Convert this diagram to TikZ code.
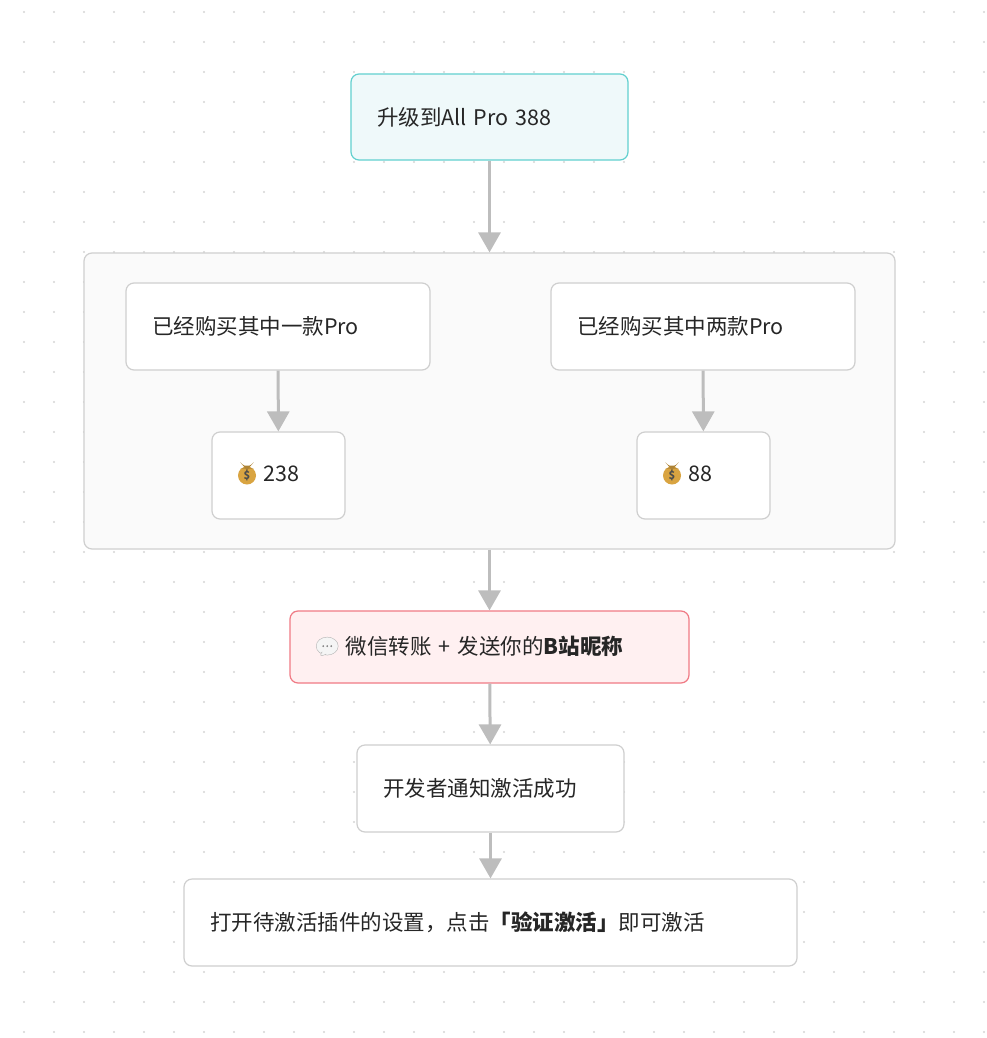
\documentclass[tikz,border=0pt]{standalone}
\usepackage{fontspec}
\setmainfont{Noto Sans CJK SC}
\usetikzlibrary{arrows.meta}
\definecolor{gridgray}{HTML}{D6D6D6}
\definecolor{linegray}{HTML}{BDBDBD}
\definecolor{boxline}{HTML}{CFCFCF}
\definecolor{cyanfill}{HTML}{EFF9FA}
\definecolor{cyanline}{HTML}{62D0CF}
\definecolor{redfill}{HTML}{FFF0F1}
\definecolor{redline}{HTML}{F07A85}
\definecolor{textgray}{HTML}{262626}
\definecolor{bagcol}{HTML}{D9A441}
\newcommand{\bagicon}{\tikz[baseline=-1pt,x=1pt,y=1pt]{
  \fill[bagcol] (0,5) circle (9);
  \fill[bagcol!80!black] (-4,15) -- (4,15) -- (1.5,12) -- (-1.5,12) -- cycle;
  \node[font=\fontsize{11}{11}\selectfont\bfseries,text=black!70,inner sep=0] at (0,5) {\$};}}
\newcommand{\chaticon}{\tikz[baseline=-1pt,x=1pt,y=1pt]{
  \draw[gray!60,fill=gray!8] (0,7) ellipse (11 and 9);
  \draw[gray!60,fill=gray!8] (-6,0) -- (-10,-5) -- (-1,-1);
  \foreach \d in {-4,0,4} \fill[gray] (\d,7) circle (1);}}
\tikzset{
  box/.style={draw=boxline, line width=1.2pt, rounded corners=8pt, fill=white,
    minimum height=87pt, inner xsep=26pt, inner ysep=0pt, align=left, text=textgray,
    font=\fontsize{21.5}{24}\selectfont},
  flow/.style={draw=linegray, line width=3pt, -{Triangle[length=20pt,width=22pt]}}
}
\begin{document}
\begin{tikzpicture}[x=1pt,y=-1pt]
\useasboundingbox (0,0) rectangle (986,1038);
\fill[white] (0,0) rectangle (986,1038);
\foreach \i in {0,...,32}{
  \foreach \j in {0,...,34}{
    \fill[gridgray] (24+30*\i,12+30*\j) circle (1.1);
  }
}
% group
\node[draw=boxline, line width=1.2pt, rounded corners=8pt, fill=black!2,
  minimum width=811pt, minimum height=296pt] (group) at (489.5,401) {};
\node[box, draw=cyanline, fill=cyanfill, text width=225pt, minimum height=86pt] (top) at (489.5,117) {升级到All Pro 388};
\node[box, text width=252pt] (one) at (278,326.5) {已经购买其中一款Pro};
\node[box, text width=252pt] (two) at (703,326.5) {已经购买其中两款Pro};
\node[box, text width=81pt] (p238) at (278.5,475.5) {\bagicon\ 238};
\node[box, text width=81pt] (p88) at (703.5,475.5) {\bagicon\ 88};
\node[box, draw=redline, fill=redfill, text width=347pt, minimum height=72pt] (wx) at (489.5,647) {\chaticon\ 微信转账 + 发送你的\textbf{B站昵称}};
\node[box, text width=215pt] (dev) at (490.5,788.5) {开发者通知激活成功};
\node[box, text width=561pt] (final) at (490.5,922.5) {打开待激活插件的设置，点击\textbf{「验证激活」}即可激活};
% arrows
\draw[flow] (top) -- (group);
\draw[flow] (one) -- (p238);
\draw[flow] (two) -- (p88);
\draw[flow] (group) -- (wx);
\draw[flow] (wx) -- (dev);
\draw[flow] (dev) -- (final);
\end{tikzpicture}
\end{document}
